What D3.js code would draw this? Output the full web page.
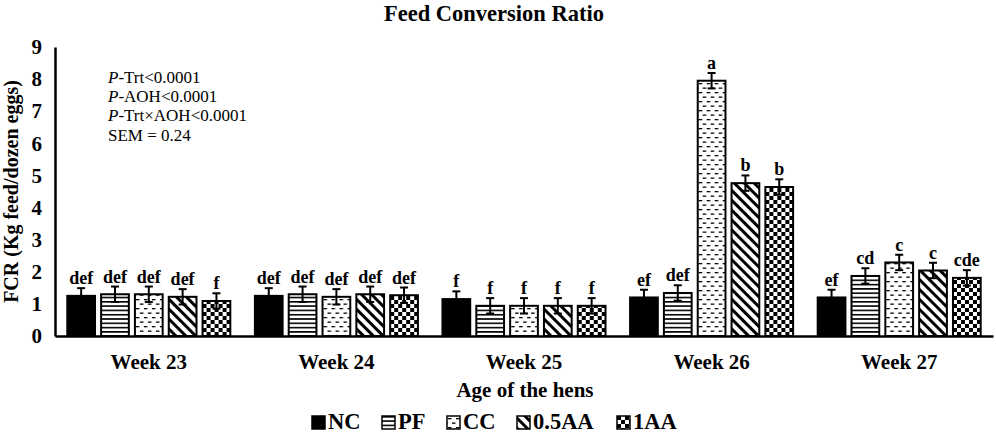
<!DOCTYPE html>
<html>
<head>
<meta charset="utf-8">
<script src="https://cdn.jsdelivr.net/npm/d3@7"></script>
<style>
  body { margin: 0; background: #fff; }
  svg { display: block; font-family: "Liberation Serif", "Times New Roman", serif; }
</style>
</head>
<body>
<div id="chart"></div>
<script>
const weeks = ["Week 23", "Week 24", "Week 25", "Week 26", "Week 27"]
const treatments = ["NC", "PF", "CC", "0.5AA", "1AA"]

// FCR means per treatment, one value per week
const ncValues   = [1.25, 1.25, 1.15, 1.20, 1.20]
const pfValues   = [1.30, 1.30, 0.94, 1.34, 1.87]
const ccValues   = [1.30, 1.22, 0.94, 7.95, 2.29]
const aa05Values = [1.22, 1.30, 0.94, 4.76, 2.04]
const aa1Values  = [1.09, 1.27, 0.94, 4.64, 1.81]

const semValue = 0.24

const ncLetters   = ["def", "def", "f", "ef", "ef"]
const pfLetters   = ["def", "def", "f", "def", "cd"]
const ccLetters   = ["def", "def", "f", "a", "c"]
const aa05Letters = ["def", "def", "f", "b", "c"]
const aa1Letters  = ["f", "def", "f", "b", "cde"]

const yTicks = [0, 1, 2, 3, 4, 5, 6, 7, 8, 9]
const statsLines = [["P", "-Trt<0.0001"], ["P", "-AOH<0.0001"], ["P", "-Trt\u00d7AOH<0.0001"], ["", "SEM = 0.24"]]

const seriesValues = [ncValues, pfValues, ccValues, aa05Values, aa1Values]
const seriesLetters = [ncLetters, pfLetters, ccLetters, aa05Letters, aa1Letters]

const data = []
weeks.forEach((w, i) => {
    treatments.forEach((t, j) => {
        data.push({week: w, trt: t, value: seriesValues[j][i], letter: seriesLetters[j][i]})
    })
})

const width = 996
const height = 435
const margin = {top: 47, right: 3, bottom: 99, left: 55}
const serif = '"Liberation Serif", "Times New Roman", serif'

const svg = d3.select('#chart')
    .append('svg')
    .attr('width', width)
    .attr('height', height)

// patterns
const defs = svg.append('defs')
const patFill = {}

patFill["NC"] = '#000'

const pf = defs.append('pattern').attr('id', 'pat-pf').attr('patternUnits', 'userSpaceOnUse')
    .attr('width', 6).attr('height', 4.3)
pf.append('rect').attr('width', 6).attr('height', 4.3).attr('fill', '#fff')
pf.append('rect').attr('y', 0).attr('width', 6).attr('height', 1.6).attr('fill', '#000')
patFill["PF"] = 'url(#pat-pf)'

const cc = defs.append('pattern').attr('id', 'pat-cc').attr('patternUnits', 'userSpaceOnUse')
    .attr('width', 8).attr('height', 9)
cc.append('rect').attr('width', 8).attr('height', 9).attr('fill', '#fff')
cc.append('rect').attr('x', 1).attr('y', 2).attr('width', 3.5).attr('height', 1.3).attr('fill', '#000')
cc.append('rect').attr('x', 5).attr('y', 6.5).attr('width', 3).attr('height', 1.3).attr('fill', '#000')
cc.append('rect').attr('x', 0).attr('y', 6.5).attr('width', 0.5).attr('height', 1.3).attr('fill', '#000')
patFill["CC"] = 'url(#pat-cc)'

const aa05 = defs.append('pattern').attr('id', 'pat-aa05').attr('patternUnits', 'userSpaceOnUse')
    .attr('width', 7).attr('height', 7).attr('patternTransform', 'rotate(45)')
aa05.append('rect').attr('width', 7).attr('height', 7).attr('fill', '#fff')
aa05.append('rect').attr('width', 7).attr('height', 3).attr('fill', '#000')
patFill["0.5AA"] = 'url(#pat-aa05)'

const aa1 = defs.append('pattern').attr('id', 'pat-aa1').attr('patternUnits', 'userSpaceOnUse')
    .attr('width', 8).attr('height', 8)
aa1.append('rect').attr('width', 8).attr('height', 8).attr('fill', '#fff')
aa1.append('rect').attr('width', 4).attr('height', 4).attr('fill', '#000')
aa1.append('rect').attr('x', 4).attr('y', 4).attr('width', 4).attr('height', 4).attr('fill', '#000')
patFill["1AA"] = 'url(#pat-aa1)'

const x0 = d3.scaleBand()
    .domain(weeks)
    .range([margin.left, width - margin.right])
    .paddingInner(0.131)
    .paddingOuter(0.0655)

const x1 = d3.scaleBand()
    .domain(treatments)
    .range([0, x0.bandwidth()])
    .paddingInner(0.18)
    .paddingOuter(0)

const y = d3.scaleLinear()
    .domain([0, 9])
    .range([height - margin.bottom, margin.top])

// title
svg.append('text')
    .attr('x', 494)
    .attr('y', 21)
    .attr('text-anchor', 'middle')
    .attr('font-size', 22.5)
    .attr('font-weight', 'bold')
    .text('Feed Conversion Ratio')

// y axis
const yAxis = d3.axisLeft(y).tickValues(yTicks).tickSize(0).tickPadding(13)
const yAxisG = svg.append('g')
    .attr('transform', `translate(${margin.left},0)`)
    .call(yAxis)
yAxisG.select('.domain').attr('stroke', '#000').attr('stroke-width', 2.5)
yAxisG.selectAll('.tick text')
    .attr('font-size', 21)
    .attr('font-weight', 'bold')
    .attr('font-family', serif)
    .attr('fill', '#000')

svg.append('text')
    .attr('transform', `translate(18,${(margin.top + height - margin.bottom) / 2}) rotate(-90)`)
    .attr('text-anchor', 'middle')
    .attr('font-size', 20)
    .attr('font-weight', 'bold')
    .text('FCR (Kg feed/dozen eggs)')

// bars
const groups = svg.append('g')
    .selectAll('g')
    .data(data)
    .join('g')
    .attr('transform', d => `translate(${x0(d.week) + x1(d.trt)},0)`)

groups.append('rect')
    .attr('x', 0)
    .attr('y', d => y(d.value))
    .attr('width', x1.bandwidth())
    .attr('height', d => y(0) - y(d.value))
    .attr('fill', d => patFill[d.trt])
    .attr('stroke', '#000')
    .attr('stroke-width', 2)

// error bars
const bw = x1.bandwidth()
groups.append('line')
    .attr('x1', bw / 2).attr('x2', bw / 2)
    .attr('y1', d => y(d.value - semValue))
    .attr('y2', d => y(d.value + semValue))
    .attr('stroke', '#000').attr('stroke-width', 2)
groups.append('line')
    .attr('x1', bw / 2 - 4).attr('x2', bw / 2 + 4)
    .attr('y1', d => y(d.value + semValue))
    .attr('y2', d => y(d.value + semValue))
    .attr('stroke', '#000').attr('stroke-width', 2)
groups.append('line')
    .attr('x1', bw / 2 - 4).attr('x2', bw / 2 + 4)
    .attr('y1', d => y(d.value - semValue))
    .attr('y2', d => y(d.value - semValue))
    .attr('stroke', '#000').attr('stroke-width', 2)

groups.append('text')
    .attr('x', bw / 2)
    .attr('y', d => y(d.value + semValue) - 4)
    .attr('text-anchor', 'middle')
    .attr('font-size', 18)
    .attr('font-weight', 'bold')
    .text(d => d.letter)

// x axis
const xAxis = d3.axisBottom(x0).tickSize(0).tickPadding(18)
const xAxisG = svg.append('g')
    .attr('transform', `translate(0,${y(0)})`)
    .call(xAxis)
xAxisG.select('.domain').attr('stroke', '#000').attr('stroke-width', 2.5)
xAxisG.selectAll('.tick text')
    .attr('font-size', 21)
    .attr('font-weight', 'bold')
    .attr('font-family', serif)
    .attr('fill', '#000')

svg.append('text')
    .attr('x', 525)
    .attr('y', 397)
    .attr('text-anchor', 'middle')
    .attr('font-size', 21)
    .attr('font-weight', 'bold')
    .text('Age of the hens')

// stats box
const stats = svg.append('g')
statsLines.forEach((ln, i) => {
    const t = stats.append('text')
        .attr('x', 108)
        .attr('y', 83 + i * 19.2)
        .attr('font-size', 17)
    if (ln[0]) t.append('tspan').attr('font-style', 'italic').text(ln[0])
    t.append('tspan').text(ln[1])
})

// legend
const legendX = [312, 382, 447, 517, 617]
const legend = svg.append('g')
    .selectAll('g')
    .data(treatments)
    .join('g')
    .attr('transform', (d, i) => `translate(${legendX[i]},416)`)
legend.append('rect')
    .attr('x', 0).attr('y', 0)
    .attr('width', 13).attr('height', 13)
    .attr('fill', d => patFill[d])
    .attr('stroke', '#000')
    .attr('stroke-width', 1.5)
legend.append('text')
    .attr('x', 16)
    .attr('y', 13)
    .attr('font-size', 22.5)
    .attr('font-weight', 'bold')
    .text(d => d)
</script>
</body>
</html>
